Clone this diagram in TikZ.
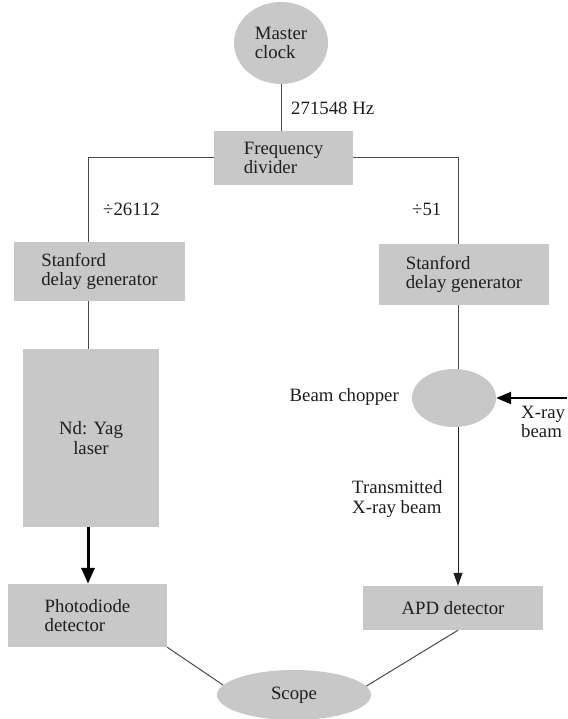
\documentclass[tikz,border=0pt]{standalone}
\usepackage{fontspec}
\setmainfont{Liberation Serif}
\usetikzlibrary{shapes.geometric,arrows.meta}
\definecolor{boxgray}{HTML}{C8C8C8}
\definecolor{linegray}{HTML}{4A4A4A}
\definecolor{txt}{HTML}{1E1E1E}
\newcommand\dfont{\fontsize{18.8}{19.5}\selectfont}
\begin{document}
\begin{tikzpicture}[x=1pt,y=-1pt,
  box/.style={rectangle, fill=boxgray, inner sep=0pt, align=left, font=\dfont, text=txt},
  oval/.style={ellipse, fill=boxgray, inner sep=0pt, align=left, font=\dfont, text=txt},
  lbl/.style={inner sep=0pt, align=left, font=\dfont, anchor=west, text=txt},
  conn/.style={draw=linegray, line width=1pt},
  heavy/.style={draw=black, line width=3pt, -{Triangle[length=16pt,width=13pt]}},
  xray/.style={draw=black, line width=2.5pt, -{Triangle[length=15pt,width=12pt]}},
  thinarrow/.style={draw=txt, line width=1pt, -{Triangle[length=13pt,width=9pt]}},
]
\useasboundingbox (0,0) rectangle (567,719);

% nodes
\node[oval, minimum width=94pt, minimum height=82pt] (clock) at (281,43) {Master\\clock};
\node[box, minimum width=139pt, minimum height=54pt] (div) at (283.5,158) {Frequency\\divider};
\node[box, minimum width=171pt, minimum height=59pt] (stan1) at (99.5,271.5) {Stanford\\delay generator};
\node[box, minimum width=170pt, minimum height=61pt] (stan2) at (464,274.5) {Stanford\\delay generator};
\node[box, minimum width=136pt, minimum height=178pt, align=center] (nd) at (91,438) {Nd: Yag\\laser};
\node[box, minimum width=159pt, minimum height=63pt] (pd) at (87.5,615.5) {Photodiode\\detector};
\node[box, minimum width=180pt, minimum height=44pt] (apd) at (453,608) {APD detector};
\node[oval, minimum width=84pt, minimum height=58pt] (chop) at (454,398) {};
\node[oval, minimum width=154pt, minimum height=50pt, align=center] (scope) at (294,695) {Scope};

% labels
\node[lbl] (hz) at (291,108) {271548 Hz};
\node[lbl] (d1) at (103,209) {÷26112};
\node[lbl] (d2) at (412,209) {÷51};
\node[lbl, anchor=east] (bc) at (399,397) {Beam chopper};
\node[lbl] (xr) at (521,422) {X-ray\\beam};
\node[lbl] (tx) at (352,499) {Transmitted\\X-ray beam};

% helper coordinates
\coordinate (lc) at (88,158);
\coordinate (rc) at (458,158);
\coordinate (xin) at (567,398);

% connectors
\draw[conn] (clock.south) -- (clock.south |- div.north);
\draw[conn] (div.west) -- (lc) -- (lc |- stan1.north);
\draw[conn] (div.east) -- (rc) -- (rc |- stan2.north);
\draw[conn] (lc |- stan1.south) -- (lc |- nd.north);
\draw[conn] (rc |- stan2.south) -- (rc |- chop.north);
\draw[heavy] (lc |- nd.south) -- (lc |- pd.north);
\draw[xray] (chop.east -| xin) -- (chop.east);
\draw[thinarrow] (rc |- chop.south) -- (rc |- apd.north);
\draw[conn] (pd.south east) -- (scope.172);
\draw[conn] (rc |- apd.south) -- (scope.7);
\end{tikzpicture}
\end{document}
